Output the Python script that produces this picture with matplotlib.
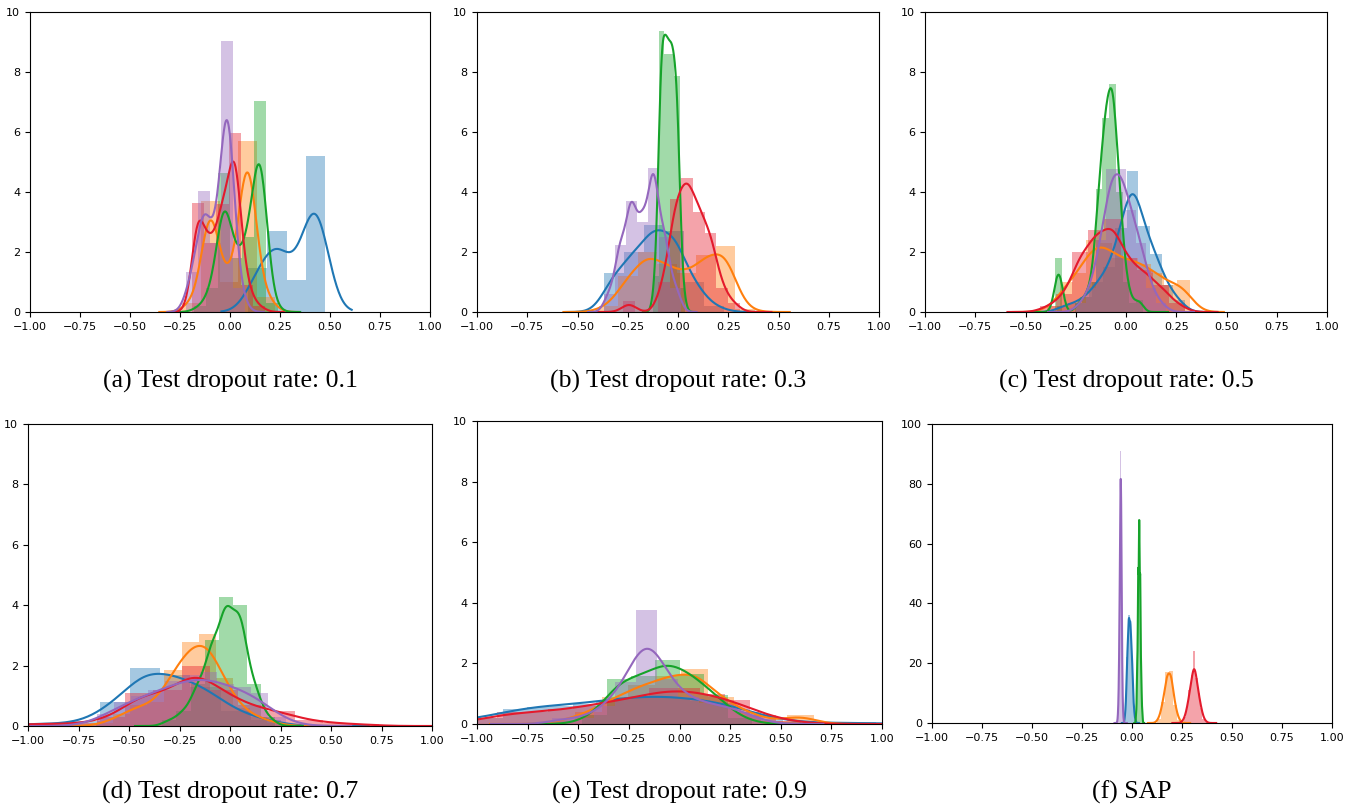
import numpy as np
import matplotlib
matplotlib.use("Agg")
import matplotlib.pyplot as plt
import seaborn as sns

# tab10 tones, red and green a little brighter as in the source figure
colors = ["#1f77b4", "#ff7f0e", "#16a32a", "#e41a2c", "#9467bd"]

# every panel: one histogram (density) + kde per series
# series order: blue, orange, green, red, purple
# starts = left edge of first bin, widths = bin width, heights = bar heights

# (a) dropout 0.1
a_starts = [0.089, -0.238, -0.18, -0.19, -0.22]
a_widths = [0.097, 0.093, 0.06, 0.061, 0.059]
a_heights = [
    [1.45, 2.7, 1.05, 5.2],
    [0.3, 3.7, 1.0, 5.7, 0.5],
    [0.2, 0.8, 4.62, 1.8, 2.5, 7.04, 0.3],
    [3.64, 2.3, 3.6, 5.96, 0.9, 0.2],
    [1.34, 4.03, 2.3, 9.03, 0.8],
]
a_bw = [0.066, 0.045, 0.037, 0.033, 0.035]

# (b) dropout 0.3
b_starts = [-0.37, -0.395, -0.122, -0.273, -0.37]
b_widths = [0.1, 0.097, 0.026, 0.058, 0.055]
b_heights = [
    [1.3, 2.0, 2.9, 2.7, 1.0, 0.2],
    [0.2, 1.2, 2.0, 1.6, 1.3, 1.9, 2.2, 0.1],
    [1.2, 9.38, 8.6, 8.6, 7.85, 0.8],
    [0.35, 0.0, 0.0, 1.0, 3.76, 4.45, 3.34, 2.62, 0.8, 0.3],
    [0.6, 2.23, 3.71, 2.99, 4.79, 2.5, 0.8],
]
b_bw = [0.06, 0.06, 0.016, 0.036, 0.027]

# (c) dropout 0.5
c_starts = [-0.345, -0.395, -0.386, -0.427, -0.25]
c_widths = [0.058, 0.065, 0.0336, 0.08, 0.05]
c_heights = [
    [0.2, 0.3, 0.5, 1.0, 1.5, 2.8, 4.7, 2.85, 1.93, 0.9, 0.4],
    [0.2, 1.0, 1.3, 2.4, 2.3, 1.8, 1.8, 1.6, 1.3, 0.9, 1.07],
    [0.0, 1.8, 0.0, 0.0, 0.3, 0.5, 1.0, 4.1, 6.46, 7.6, 4.0, 1.0, 0.3, 0.4, 0.0],
    [0.2, 0.6, 2.01, 2.73, 3.1, 1.8, 1.4, 0.9, 0.3],
    [0.3, 0.8, 2.4, 4.76, 4.76, 3.4, 2.3, 0.8, 0.3],
]
c_bw = [0.04, 0.055, 0.021, 0.047, 0.035]

# (d) dropout 0.7
d_starts = [-1.096, -0.665, -0.335, -1.08, -0.66]
d_widths = [0.15, 0.085, 0.07, 0.14, 0.085]
d_heights = [
    [0.07, 0.07, 0.15, 0.8, 1.93, 1.7, 1.3, 0.5, 0.2],
    [0.1, 0.4, 0.7, 0.8, 1.87, 2.79, 3.04, 1.6, 0.6, 0.3, 0.1],
    [0.2, 0.5, 1.4, 2.84, 4.27, 4.0, 1.4, 0.3],
    [0.07, 0.07, 0.1, 0.3, 1.1, 1.2, 2.0, 1.2, 0.7, 0.5, 0.2, 0.1, 0.05],
    [0.4, 0.8, 1.0, 1.2, 1.5, 1.7, 1.8, 1.4, 1.3, 1.1, 0.3],
]
d_bw = [0.1, 0.06, 0.036, 0.09, 0.1]

# (e) dropout 0.9
e_starts = [-1.1, -0.647, -0.48, -1.025, -0.63]
e_widths = [0.115, 0.131, 0.12, 0.125, 0.104]
e_heights = [
    [0.2, 0.2, 0.5, 0.55, 0.6, 0.65, 0.75, 0.85, 0.9, 0.85, 0.75, 0.7, 0.4,
     0.15, 0.07, 0.03, 0.03, 0.05],
    [0.1, 0.4, 0.9, 1.3, 1.6, 1.8, 0.9, 0.4, 0.1, 0.3],
    [0.3, 1.47, 1.6, 2.11, 1.64, 0.96, 0.2],
    [0.2, 0.4, 0.4, 0.5, 0.6, 0.8, 0.9, 1.2, 1.2, 1.0, 0.79, 0.3, 0.1],
    [0.2, 0.2, 0.6, 1.4, 3.76, 1.5, 0.9, 0.7, 0.6, 0.3],
]
e_bw = [0.13, 0.08, 0.08, 0.12, 0.08]

# (f) SAP
f_starts = [-0.036, 0.125, 0.0185, 0.247, -0.0715]
f_widths = [0.008, 0.02, 0.005, 0.0117, 0.003]
f_heights = [
    [4, 22, 36, 34, 22, 6, 1],
    [1.5, 7, 17, 17.5, 6, 1],
    [3, 18, 48, 64, 46, 17, 4],
    [0.5, 2, 5.5, 11, 16, 24, 15, 10, 5, 1.5, 0.5],
    [2, 7, 20, 45, 91, 105, 45, 12, 4, 1],
]
f_bw = [0.004, 0.012, 0.002, 0.01, 0.003]

captions = ["(a) Test dropout rate: 0.1", "(b) Test dropout rate: 0.3",
            "(c) Test dropout rate: 0.5", "(d) Test dropout rate: 0.7",
            "(e) Test dropout rate: 0.9", "(f) SAP"]
x_ticks = [-1.0, -0.75, -0.5, -0.25, 0.0, 0.25, 0.5, 0.75, 1.0]


def draw(ax, starts, widths, heights, bws):
    for c, s, w, h, bw in zip(colors, starts, widths, heights, bws):
        h = np.asarray(h, dtype=float)
        edges = s + w * np.arange(len(h) + 1)
        centers = edges[:-1] + w / 2
        ax.stairs(h, edges, fill=True, color=c, alpha=0.4, lw=0)
        sd = np.sqrt(np.cov(centers, aweights=h))
        sns.kdeplot(x=centers, weights=h, bw_method=bw / sd, color=c,
                    lw=1.5, ax=ax)


W, H = 1354, 805
fig = plt.figure(figsize=(W / 100, H / 100), dpi=100)

# pixel boxes: left, right, top, bottom
boxes = [(30, 430, 12, 312), (477, 879, 12, 312), (925, 1327, 12, 312),
         (28, 432, 424, 726), (477, 882, 421, 724), (932, 1332, 424, 723)]
panels = [
    (a_starts, a_widths, a_heights, a_bw),
    (b_starts, b_widths, b_heights, b_bw),
    (c_starts, c_widths, c_heights, c_bw),
    (d_starts, d_widths, d_heights, d_bw),
    (e_starts, e_widths, e_heights, e_bw),
    (f_starts, f_widths, f_heights, f_bw),
]

for i, ((l, r, t, b), data) in enumerate(zip(boxes, panels)):
    ax = fig.add_axes([l / W, 1 - b / H, (r - l) / W, (b - t) / H])
    draw(ax, *data)
    ax.set_xlim(-1, 1)
    ax.set_xticks(x_ticks)
    ax.set_xticklabels([("%.2f" % v).replace("-", "\u2212") for v in x_ticks])
    if i == 5:
        ax.set_ylim(0, 100)
        ax.set_yticks(range(0, 101, 20))
    else:
        ax.set_ylim(0, 10)
        ax.set_yticks(range(0, 11, 2))
    ax.set_ylabel("")
    ax.tick_params(labelsize=8)
    cap_y = 388 if i < 3 else 799
    fig.text((l + r) / 2 / W, 1 - cap_y / H, captions[i], ha="center",
             va="baseline", family="Liberation Serif", fontsize=18.5)

fig.savefig("out.png", dpi=100)
